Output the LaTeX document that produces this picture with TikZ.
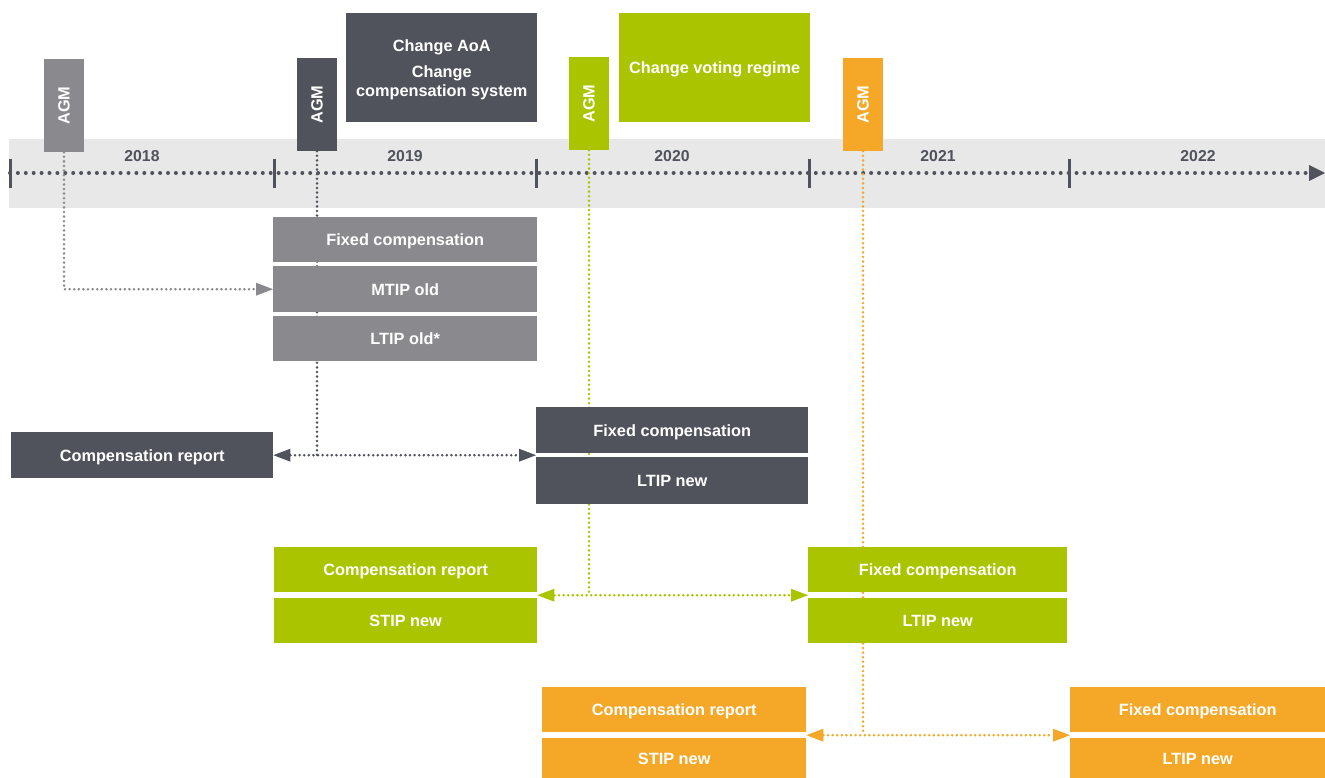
\documentclass[tikz,border=0pt]{standalone}
\usepackage{fontspec}
\setmainfont{Liberation Sans}
\usetikzlibrary{arrows.meta,calc}
\definecolor{cgray}{HTML}{8A898E}
\definecolor{cdark}{HTML}{50535B}
\definecolor{cgreen}{HTML}{ABC400}
\definecolor{corange}{HTML}{F5A828}
\definecolor{cband}{HTML}{E8E8E8}
\pgfdeclarelayer{bg}
\pgfdeclarelayer{lines}
\pgfsetlayers{bg,lines,main}
\begin{document}
\begin{tikzpicture}[x=1pt,y=-1pt,
  txt/.style={font=\fontsize{16.3}{19}\selectfont\bfseries},
  box/.style={fill=#1, draw=none, text=white, txt, inner sep=0pt, anchor=north west, text depth=0pt},
  agm/.style={fill=#1, draw=none, text=white, txt, inner sep=0pt, rotate=90, minimum width=93pt, minimum height=40pt},
  year/.style={text=cdark, font=\fontsize{15.8}{18}\selectfont\bfseries, inner sep=0pt},
  tick/.style={draw=cdark, line width=3pt},
  tline/.style={draw=cdark, line width=4pt, line cap=round, dash pattern=on 0pt off 7.9pt},
  conn/.style={draw=#1, line width=2.8pt, line cap=round, dash pattern=on 0pt off 4.6pt},
  tip/.style={-{Triangle[length=17pt,width=13pt,line width=0pt,fill=#1]}},
  tips/.style={{Triangle[length=17pt,width=13pt,line width=0pt,fill=#1]}-{Triangle[length=17pt,width=13pt,line width=0pt,fill=#1]}}
]
\useasboundingbox (0,0) rectangle (1325,778);

% band
\begin{pgfonlayer}{bg}
\fill[cband] (9,139) rectangle (1325,208);
\end{pgfonlayer}

% years
\node[year] (y18) at (142,156) {2018};
\node[year] (y19) at (405,156) {2019};
\node[year] (y20) at (672,156) {2020};
\node[year] (y21) at (938,156) {2021};
\node[year] (y22) at (1198,156) {2022};

% timeline
\coordinate (tlS) at (10,173);
\coordinate (tlE) at (1325,173);
\begin{pgfonlayer}{bg}
\draw[tline] (tlS) -- ($(tlE)+(-14,0)$);
\fill[cdark] (tlE) -- ++(-16,-8) -- ++(0,16) -- cycle;
\foreach \x in {10,274,536,809,1069}{
  \draw[tick] (\x,159) -- (\x,188);
}
\end{pgfonlayer}

% AGM markers
\node[agm=cgray] (agmA) at (64,105.5) {AGM};
\node[agm=cdark] (agmB) at (317,104.5) {AGM};
\node[agm=cgreen] (agmC) at (589,103.5) {AGM};
\node[agm=corange] (agmD) at (863,104.5) {AGM};

% top boxes
\node[box=cdark, minimum width=191pt, minimum height=109pt, align=center] (aoa) at (346,13)
  {Change AoA\\[7pt]Change\\compensation system};
\node[box=cgreen, minimum width=191pt, minimum height=109pt] (vote) at (619,13) {Change voting regime};

% gray group
\node[box=cgray, minimum width=264pt, minimum height=45pt] (fcG) at (273,217) {Fixed compensation};
\node[box=cgray, minimum width=264pt, minimum height=46pt] (mtG) at (273,266) {MTIP old};
\node[box=cgray, minimum width=264pt, minimum height=45pt] (ltG) at (273,316) {LTIP old*};

% dark group
\node[box=cdark, minimum width=262pt, minimum height=46pt] (crD) at (11,432) {Compensation report};
\node[box=cdark, minimum width=272pt, minimum height=46pt] (fcD) at (536,407) {Fixed compensation};
\node[box=cdark, minimum width=272pt, minimum height=47pt] (ltD) at (536,457) {LTIP new};

% green group
\node[box=cgreen, minimum width=263pt, minimum height=45pt] (crC) at (274,547) {Compensation report};
\node[box=cgreen, minimum width=263pt, minimum height=45pt] (stC) at (274,598) {STIP new};
\node[box=cgreen, minimum width=259pt, minimum height=45pt] (fcC) at (808,547) {Fixed compensation};
\node[box=cgreen, minimum width=259pt, minimum height=45pt] (ltC) at (808,598) {LTIP new};

% orange group
\node[box=corange, minimum width=264pt, minimum height=45pt] (crO) at (542,687) {Compensation report};
\node[box=corange, minimum width=264pt, minimum height=41pt] (stO) at (542,738) {STIP new};
\node[box=corange, minimum width=255pt, minimum height=45pt] (fcO) at (1070,687) {Fixed compensation};
\node[box=corange, minimum width=255pt, minimum height=41pt] (ltO) at (1070,738) {LTIP new};

% connectors
\begin{pgfonlayer}{lines}
\draw[conn=cgray, tip=cgray] (agmA.west) |- (mtG.west);

\coordinate (gD) at ($(fcD.south west)!0.5!(ltD.north west)$);
\coordinate (jD) at (agmB.west |- gD);
\draw[conn=cdark] (agmB.west) -- (jD);
\draw[conn=cdark, tips=cdark] (crD.east |- gD) -- (gD);

\coordinate (gCl) at ($(crC.south east)!0.5!(stC.north east)$);
\coordinate (gCr) at ($(fcC.south west)!0.5!(ltC.north west)$);
\coordinate (jC) at (agmC.west |- gCl);
\draw[conn=cgreen] (agmC.west) -- (jC);
\draw[conn=cgreen, tips=cgreen] (gCl) -- (gCr);

\coordinate (gOl) at ($(crO.south east)!0.5!(stO.north east)$);
\coordinate (gOr) at ($(fcO.south west)!0.5!(ltO.north west)$);
\coordinate (jO) at (agmD.west |- gOl);
\draw[conn=corange] (agmD.west) -- (jO);
\draw[conn=corange, tips=corange] (gOl) -- (gOr);
\end{pgfonlayer}
\end{tikzpicture}
\end{document}
